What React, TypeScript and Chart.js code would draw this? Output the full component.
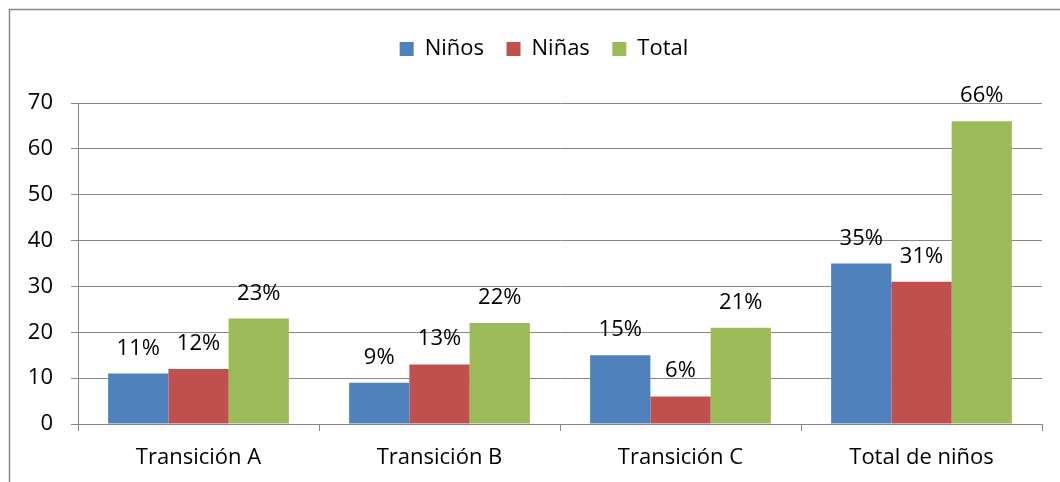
import React, { useEffect, useRef } from "react";
import { Chart, registerables } from "chart.js";

Chart.register(...registerables);

const categories = ["Transición A", "Transición B", "Transición C", "Total de niños"];
const seriesNames = ["Niños", "Niñas", "Total"];
const ninos = [11, 9, 15, 35];
const ninas = [12, 13, 6, 31];
const total = [23, 22, 21, 66];
const seriesColors = ["#4F81BD", "#C0504D", "#9BBB59"];
const yMin = 0;
const yMax = 70;
const yStep = 10;

const FONT = "'Open Sans', 'Noto Sans', sans-serif";
const GRID = "#878787";

const framePlugin = {
  id: "frame",
  afterLayout(chart: any) {
    // centre the legend inside the outer frame (which extends past the page)
    if (chart.legend) {
      chart.legend.left = 28;
      chart.legend.right = 1060;
    }
  },
  beforeDraw(chart: any) {
    const ctx = chart.ctx;
    ctx.save();
    ctx.strokeStyle = GRID;
    ctx.lineWidth = 1.5;
    ctx.beginPath();
    ctx.moveTo(9.5, chart.height + 5);
    ctx.lineTo(9.5, 9.5);
    ctx.lineTo(chart.width + 5, 9.5);
    ctx.stroke();
    ctx.restore();
  },
};

const labelPlugin = {
  id: "valueLabels",
  afterDatasetsDraw(chart: any) {
    const ctx = chart.ctx;
    ctx.save();
    ctx.font = `22px ${FONT}`;
    ctx.fillStyle = "#000";
    ctx.textAlign = "center";
    ctx.textBaseline = "alphabetic";
    chart.data.datasets.forEach((ds: any, i: number) => {
      const meta = chart.getDatasetMeta(i);
      meta.data.forEach((el: any, j: number) => {
        ctx.fillText(`${ds.data[j]}%`, el.x, el.y - 19);
      });
    });
    ctx.restore();
  },
};

export default function App() {
  const ref = useRef<HTMLCanvasElement | null>(null);
  useEffect(() => {
    if (!ref.current) return;
    const chart = new Chart(ref.current, {
      type: "bar",
      data: {
        labels: categories,
        datasets: [ninos, ninas, total].map((d, i) => ({
          label: seriesNames[i],
          data: d,
          backgroundColor: seriesColors[i],
          borderWidth: 0,
          categoryPercentage: 0.75,
          barPercentage: 1,
        })),
      },
      options: {
        animation: false,
        responsive: false,
        maintainAspectRatio: false,
        devicePixelRatio: 1,
        layout: { padding: { top: 15.5, left: 10, right: 18, bottom: 0 } },
        plugins: {
          tooltip: { enabled: false },
          legend: {
            position: "top",
            labels: {
              boxWidth: 14,
              boxHeight: 14,
              padding: 22.5,
              color: "#000",
              font: { family: FONT, size: 22 },
            },
          },
          title: {
            display: true,
            text: "",
            weight: 500,
            position: "top",
            font: { size: 10, lineHeight: 1 },
            padding: { top: 0, bottom: 23 },
          } as any,
        },
        scales: {
          x: {
            offset: true,
            grid: {
              offset: true,
              drawOnChartArea: false,
              drawTicks: true,
              tickLength: 7,
              color: GRID,
            },
            border: { display: true, color: GRID, width: 1 },
            ticks: { color: "#000", font: { family: FONT, size: 22 }, padding: 14, maxRotation: 0 },
            afterFit(scale: any) {
              scale.height = 58;
            },
          },
          y: {
            min: yMin,
            max: yMax,
            grid: { color: GRID, tickLength: 7, drawTicks: true },
            border: { display: true, color: GRID, width: 1 },
            ticks: { stepSize: yStep, color: "#000", font: { family: FONT, size: 22 }, padding: 18 },
            afterFit(scale: any) {
              scale.width = 68;
            },
          },
        },
      },
      plugins: [framePlugin, labelPlugin],
    });
    return () => chart.destroy();
  }, []);
  return (
    <div style={{ position: "fixed", left: 0, top: 0, width: 1060, height: 482, background: "#fff" }}>
      <canvas ref={ref} width={1060} height={482} style={{ display: "block" }} />
    </div>
  );
}
